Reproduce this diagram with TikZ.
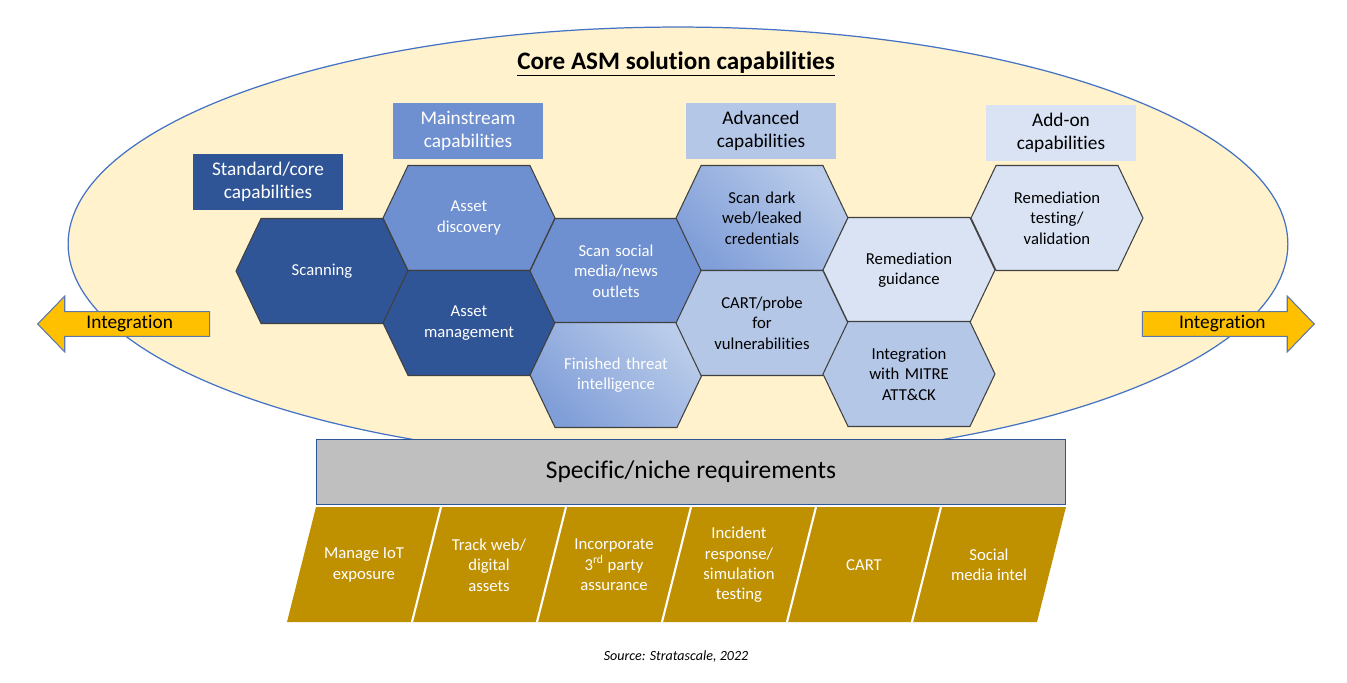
\documentclass[tikz,border=0pt]{standalone}
\usepackage{fontspec}
\setmainfont{Carlito}[Ligatures=NoCommon]
\usetikzlibrary{shapes.symbols,shapes.arrows}
\tikzset{
  hexcell/.style={
    signal, signal to=east and west, signal pointer angle=129,
    draw=hexline, line width=0.6pt,
    minimum width=3.44cm, minimum height=2.1cm, inner sep=0pt,
    text width=2.2cm, align=center,
    font=\fontsize{9.5}{11.6}\selectfont
  },
  hex-white/.style={hexcell, text=white},
  hex-fade/.style={hexcell, bottom color=fadelo, top color=fadehi, shading angle=-45},
  tierbox/.style={
    minimum width=3cm, minimum height=1.14cm, inner sep=0pt,
    align=center, font=\fontsize{11}{13}\selectfont
  },
  integ/.style={
    single arrow, single arrow head extend=0.27cm, single arrow tip angle=92,
    minimum height=3.44cm, minimum width=1.12cm, inner sep=1pt,
    fill=arrgold, draw=arrline, line width=0.6pt,
    font=\fontsize{11}{13}\selectfont
  },
  nichebox/.style={
    fill=nichegray, draw=hexdark, line width=0.6pt,
    minimum width=15cm, minimum height=1.3cm,
    font=\fontsize{14.5}{17}\selectfont
  },
  nichetext/.style={text=white, align=center, font=\fontsize{9.5}{11.6}\selectfont}
}
\definecolor{ovalfill}{RGB}{255,242,204}
\definecolor{ovalline}{RGB}{68,114,196}
\definecolor{hexline}{RGB}{64,64,64}
\definecolor{hexdark}{RGB}{47,85,151}
\definecolor{hexmid}{RGB}{110,144,208}
\definecolor{hexlite}{RGB}{180,199,231}
\definecolor{hexpale}{RGB}{218,227,243}
\definecolor{fadelo}{RGB}{128,158,216}
\definecolor{fadehi}{RGB}{186,204,234}
\definecolor{arrgold}{RGB}{255,192,0}
\definecolor{arrline}{RGB}{90,120,170}
\definecolor{nichegray}{RGB}{191,191,191}
\definecolor{gold}{RGB}{191,144,0}

\begin{document}
\begin{tikzpicture}[x=0.02cm, y=-0.02cm]
  \useasboundingbox (0,0) rectangle (1347,683);
  % oval backdrop
  \draw[fill=ovalfill, draw=ovalline, line width=0.7pt] (678,244) ellipse [x radius=12.2cm, y radius=4.34cm];
  \node[font=\bfseries\fontsize{14.3}{17}\selectfont] (title) at (676,64) {\underline{Core ASM solution capabilities}};

  % integration arrows
  \node[integ, shape border rotate=180, anchor=tip] (intl) at (37,324) {Integration};
  \node[integ, anchor=tip] (intr) at (1315,324) {Integration};

  % tier labels
  \node[tierbox, fill=hexdark, text=white] (tstd) at (268,182) {Standard/core\\capabilities};
  \node[tierbox, fill=hexmid, text=white] (tmain) at (468,131) {Mainstream\\capabilities};
  \node[tierbox, fill=hexlite] (tadv) at (761,131) {Advanced\\capabilities};
  \node[tierbox, fill=hexpale] (tadd) at (1061,133) {Add-on\\capabilities};

  % honeycomb
  \node[hex-white, fill=hexdark] (scan) at (322,271) {Scanning};
  \node[hex-white, fill=hexmid] (disc) at (469,218) {Asset\\discovery};
  \node[hex-white, fill=hexdark] (mgmt) at (469,323) {Asset\\management};
  \node[hex-white, fill=hexmid] (social) at (616,271) {Scan social\\media/news\\outlets};
  \node[hex-fade, text=white] (threat) at (616,375) {Finished threat\\intelligence};
  \node[hex-fade] (dark) at (762,218) {Scan dark\\web/leaked\\credentials};
  \node[hexcell, fill=hexlite] (cart) at (762,323) {CART/probe\\for\\vulnerabilities};
  \node[hexcell, fill=hexpale] (guide) at (909,270) {Remediation\\guidance};
  \node[hexcell, fill=hexlite] (mitre) at (909,374) {Integration\\with MITRE\\ATT\&CK};
  \node[hexcell, fill=hexpale] (retest) at (1057,218) {Remediation\\testing/\\validation};

  % niche requirements
  \node[nichebox] (niche) at (691,472) {Specific/niche requirements};
  \fill[gold] (316,507) -- (1066,507) -- (1037,622) -- (287,622) -- cycle;
  \foreach \k in {1,...,5}
    \draw[white, line width=1.2pt] (316+125*\k,507) -- (287+125*\k,622);
  \foreach \n/\txt [count=\k from 0] in {iot/{Manage IoT\\exposure}, web/{Track web/\\digital\\assets},
      third/{Incorporate\\3\textsuperscript{rd} party\\assurance}, incident/{Incident\\response/\\simulation\\testing},
      nichecart/{CART}, intel/{Social\\media intel}}
    \node[nichetext] (\n) at (364+125*\k,565) {\txt};

  \node[font=\itshape\fontsize{8}{10}\selectfont] (src) at (676,657) {Source: Stratascale, 2022};
\end{tikzpicture}
\end{document}
